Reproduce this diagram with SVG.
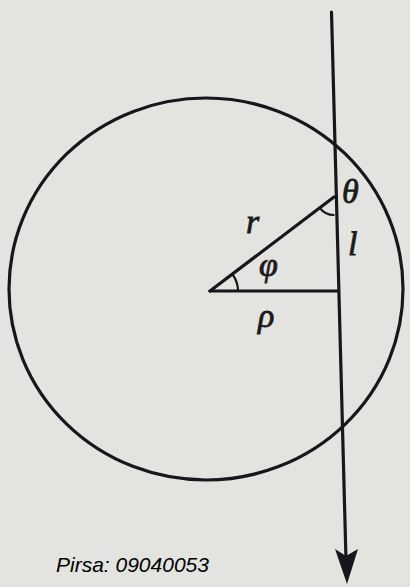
<svg xmlns="http://www.w3.org/2000/svg" width="410" height="587" viewBox="0 0 410 587">
<style>
.ln{fill:none;stroke:#17161c;stroke-width:3.2;stroke-linecap:round;stroke-linejoin:round}
.thin{fill:none;stroke:#17161c;stroke-width:2.2}
.sym{font-family:"Liberation Serif","DejaVu Serif",serif;font-style:italic;font-size:34px;fill:#1a1a20;stroke:#1a1a20;stroke-width:0.8}
.cap{font-family:"Liberation Sans",Arial,sans-serif;font-style:italic;font-size:21px;fill:#000}
</style>
<rect width="410" height="587" fill="#e3e3df"/>
<g id="circle">
<ellipse class="ln" cx="206" cy="289" rx="197" ry="191"/>
</g>
<g id="connectors">
<path id="line-l" class="ln" d="M331.5,12 L346,560"/>
<polygon id="arrowhead" points="347,584 335,549 346,556 358,549" fill="#17161c"/>
<path id="radius-r" class="ln" d="M210,291 L334,197"/>
<path id="impact-rho" class="ln" d="M210,291 L338,291"/>
<path id="angle-phi" class="thin" d="M238,291 A28,28 0 0 0 232.3,274.1"/>
<path id="angle-theta" class="thin" d="M319.7,207.8 A18,18 0 0 0 334.5,215"/>
</g>
<g id="labels">
<text class="sym" x="342" y="203">θ</text>
<text class="sym" x="348" y="255">l</text>
<text class="sym" x="246" y="233">r</text>
<text class="sym" x="259" y="276">φ</text>
<text class="sym" x="258" y="327">ρ</text>
</g>
<g id="caption">
<text class="cap" x="56" y="572">Pirsa: 09040053</text>
</g>
</svg>
